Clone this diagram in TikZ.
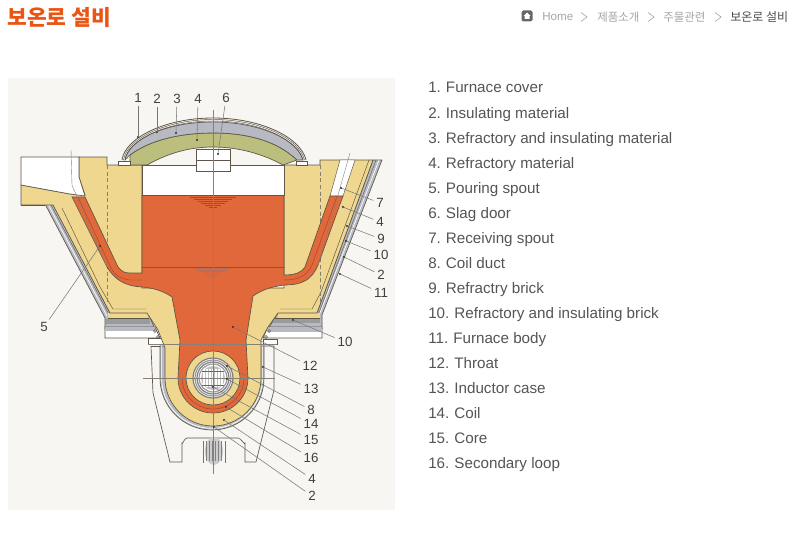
\documentclass[tikz,border=0pt]{standalone}
\usepackage{fontspec}
\setmainfont{Liberation Sans}
\newfontfamily\krfont{Noto Sans CJK KR}
\definecolor{panelbg}{HTML}{F8F6F3}
\definecolor{wally}{HTML}{EFD78F}
\definecolor{bath}{HTML}{E0683A}
\definecolor{bathd}{HTML}{A8482A}
\definecolor{domeg}{HTML}{BBBE7C}
\definecolor{domes}{HTML}{B7BAC2}
\definecolor{ln}{HTML}{5E5648}
\definecolor{lead}{HTML}{777777}
\definecolor{titleo}{HTML}{EA5514}
\definecolor{listc}{HTML}{555555}
\tikzset{
 outl/.style={draw=ln,line width=0.5pt},
 thin line/.style={draw=ln,line width=0.35pt},
 axis line/.style={draw=ln!75,line width=0.3pt},
 leader/.style={draw=lead,line width=0.4pt},
 num/.style={font=\fontsize{10}{10}\selectfont,text=black!75,inner sep=2pt},
 item/.style={font=\fontsize{11.4}{13}\selectfont,text=listc,anchor=base west,inner sep=0pt},
 crumb/.style={font=\krfont\fontsize{8.6}{10}\selectfont,text=black!35,inner sep=0pt},
 chev/.style={draw=black!35,line width=0.45pt},
}
\begin{document}
\begin{tikzpicture}[x=0.75pt,y=-0.75pt]
\useasboundingbox (0,0) rectangle (796,542);
\fill[white] (0,0) rectangle (796,542);
\fill[panelbg] (8,78) rectangle (395,510);

% outer steel shell bands
\filldraw[fill=domes,outl] (45,204)--(105,318)--(105,329)--(155,329)--(148,313)--(110,313)--(53,204)--cycle;
\filldraw[fill=domes,outl] (382,160)--(322,315)--(322,329)--(268,329)--(278,313)--(317,313)--(373,160)--cycle;
\draw[white,line width=0.5pt] (48,204)--(107,316);
\draw[ln,line width=0.3pt] (50.5,204)--(109,314.5);
\draw[white,line width=0.5pt] (379,160)--(320,313);
\draw[ln,line width=0.3pt] (376,160)--(318.5,314);
% bottom bands
\fill[wally] (108,313) rectangle (148,318);
\fill[wally] (278,313) rectangle (320,318);
\draw[thin line] (108,318)--(149,318);
\draw[thin line] (275,318)--(320,318);
\fill[domes!60!black!70] (106,319) rectangle (150,324);
\fill[domes!60!black!70] (273,319) rectangle (320,323);
% base plates
\filldraw[fill=white,outl] (105,327)--(155,327)--(160,338)--(105,338)--cycle;
\filldraw[fill=white,outl] (268,327)--(322,327)--(322,338)--(263,338)--cycle;
\fill[domes] (105.3,327.3) rectangle (155,331);
\fill[domes] (268,327.3) rectangle (321.7,331.5);
\filldraw[fill=white,outl] (148,338)--(163,338)--(163,344)--(148,344)--cycle;
\filldraw[fill=white,outl] (263,339)--(277,339)--(277,344)--(263,344)--cycle;

% inductor case
\draw[outl] (151,346)--(153,393)--(170,462)--(182,462)--(182,443) to[out=-90,in=180] (187,438)--(238,438) to[out=0,in=-90] (245,443)--(245,462)--(256,462)--(274,390)--(274,346)--(263,346);
\draw[outl] (151,346)--(160,346);

% ring steel band
\filldraw[fill=domes,outl] (160,346)--(160,378) arc[start angle=180,end angle=0,radius=52]--(264,346)--cycle;
\draw[white,line width=0.5pt] (161.6,346)--(161.6,378) arc[start angle=180,end angle=0,radius=50.4]--(262.4,346);

% yellow body
\filldraw[fill=wally,outl] (79,157)--(107,157)--(107,165)--(142,165)--(142,288)--(284,288)--(284,165)--(320,165)--(320,160)--(373,160)--(317,313)--(278,313)--(268,327)--(261,340)--(261,378) arc[start angle=0,end angle=180,radius=48]--(165,348)--(158,330)--(147,313)--(110,313)--(53,205)--(21,205)--(21,185)--(70,194)--(85,195)--(79,177)--cycle;
\draw[thin line] (369,160)--(321,292)--(312,309)--(280,309);
\draw[thin line] (62,208)--(100,287)--(113,309)--(146,309);
\draw[axis line,densely dashed] (107,165)--(107,302);
\draw[axis line,densely dashed] (320,165)--(320,302);

% white spouts and chamber
\filldraw[fill=white,outl] (21,157)--(79,157)--(79,177)--(85,196)--(70,194)--(21,185)--cycle;
\filldraw[fill=white,thin line] (340,160)--(355,160)--(343,196)--(330,196)--cycle;
\fill[white] (142,165) rectangle (284,196);
\draw[outl] (142,165)--(142,196);
\draw[outl] (284,165)--(284,196);
\draw[thin line] (21,205)--(45,205);

% molten bath / refractory
\filldraw[fill=bath,outl] (72,197)--(85,197)--(118,267) .. controls (122,272) and (125,273) .. (130,273)--(142,273)--(142,195.5)--(284,195.5)--(284,275) .. controls (296,275) and (302,272) .. (305,267)--(330,196)--(343,196)--(318,265) .. controls (312,280) and (302,285) .. (284,285) .. controls (270,287) and (262,290) .. (253,296)--(246,340)--(248,378) arc[start angle=0,end angle=180,radius=35]--(180,340)--(172,297) .. controls (165,292) and (155,288) .. (142,287) .. controls (125,286) and (115,280) .. (107,267)--cycle;
% seams in bath
\draw[bathd,line width=0.45pt] (142,267)--(284,267);
\draw[bathd,line width=0.35pt] (78,197)--(111,268) .. controls (116,277) and (122,279) .. (130,280)--(142,280);
\draw[bathd,line width=0.35pt] (337,196)--(312,265) .. controls (307,276) and (298,280) .. (284,280);
\foreach \k in {0,...,5}{
 \draw[bathd,line width=0.5pt] (190+3.8*\k,197+2*\k)--(236-3.8*\k,197+2*\k);
 \draw[bathd!80,line width=0.45pt] (195+3*\k,268.5+1.6*\k)--(230-3*\k,268.5+1.6*\k);
}

% throat ring and coil
\fill[wally] (213,378) circle[radius=27];
\draw[outl] (213,378) circle[radius=27];
\draw[bathd,line width=0.4pt] (182,378) arc[start angle=180,end angle=0,radius=31];
\fill[white] (213,378) circle[radius=20];
\foreach \r/\c in {20/black!50,18/black!40,16/black!50,14/black!40}{
 \draw[\c,line width=0.9pt] (213,378) circle[radius=\r];}
\fill[black!25] (213,378) circle[radius=12];
\foreach \dx in {-9,-6,-3,0,3,6,9}{
 \draw[white,line width=0.9pt] (213+\dx,378-9) -- (213+\dx,378+9);}
\draw[black!60,line width=0.5pt] (202,371)--(224,371) (202,385)--(224,385);

% lower yoke coil
\draw[black!55,line width=0.5pt] (203,441)--(203,463) (225,441)--(225,463);
\fill[black!20] (214,451) ellipse[x radius=9,y radius=14];
\foreach \dx in {-8,-5,-2,1,4,7}{
 \draw[black!50,line width=0.45pt] (214+\dx,441)--(214+\dx,461);}

% dome
\filldraw[fill=domeg,outl] (130,155) .. controls (150,140) and (180,133) .. (213,133) .. controls (246,133) and (276,140) .. (297,160)--(283,165)  .. controls (265,155) and (240,147) .. (213,147) .. controls (186,147) and (165,155) .. (147,165)--(130,165)--cycle;
\filldraw[fill=domes,outl] (125,160) .. controls (128,140) and (165,122) .. (213,122) .. controls (260,122) and (298,140) .. (303,160)--(297,160) .. controls (276,140) and (246,133) .. (213,133) .. controls (180,133) and (150,140) .. (130,155)--cycle;
\foreach \o/\t in {0/0.6,1.5/0.35,3/0.35}{
 \draw[ln,line width=\t pt] (122+\o,160) .. controls (125+\o,138+\o) and (165,118+\o) .. (213,118+\o) .. controls (262,118+\o) and (301-\o,138+\o) .. (306-\o,160);}
\filldraw[fill=white,outl] (118,161) rectangle (130,165);
\filldraw[fill=white,outl] (296,161) rectangle (307,165);

% slag door
\filldraw[fill=white,outl] (196,149) rectangle (230,171);
\draw[thin line] (196,160)--(230,160);
\draw[thin line] (142,165)--(196,165);
\draw[thin line] (230,165)--(284,165);

% plugs
\draw[ln,line width=0.4pt] (155,331) circle[radius=1.6] (158,337) circle[radius=1.6];
\draw[ln,line width=0.4pt] (269,331) circle[radius=1.6] (266,337) circle[radius=1.6];

% centre lines
\draw[axis line] (213,110)--(213,474);
\draw[axis line] (143,378)--(275,378);
\draw[axis line] (148,344)--(277,344);
\draw[axis line] (71,150)--(72,185)--(107,267);
\draw[axis line] (350,153)--(318,265);

% leader anchors
\foreach \n/\p in {a1/{138,137},a2/{157,132},a3/{176,133},a4/{197,140},a6/{218,154},a7/{341,188},b4/{343,207},a9/{347,226},a10/{346,241},b2/{344,257},a11/{340,274},b10/{293,320},a12/{233,327},a13/{263,367},a8/{227,366},a14/{227,379},a15/{213,387},a16/{226,407},c4/{224,420},c2/{214,427},a5/{100,246}}{
 \coordinate (\n) at (\p);
 \fill[black!85] (\n) circle[radius=1.2];
}
% labels
\foreach \n/\p/\t in {n1/{138,98}/1,n2/{157,99}/2,n3/{177,99}/3,n4/{198,99}/4,n6/{226,98}/6,n7/{380,203}/7,m4/{380,222}/4,n9/{381,239}/9,n10/{381,255}/10,m2/{381,275}/2,n11/{381,293}/11,m10/{345,342}/10,n12/{310,366}/12,n13/{311,389}/13,n8/{311,410}/8,n14/{311,424}/14,n15/{311,440}/15,n16/{311,458}/16,p4/{312,479}/4,p2/{312,496}/2,n5/{44,327}/5}{
 \node[num] (\n) at (\p) {\t};
}
\foreach \a/\b in {a1/n1,a2/n2,a3/n3,a4/n4,a6/n6,a7/n7,b4/m4,a9/n9,a10/n10,b2/m2,a11/n11,b10/m10,a12/n12,a13/n13,a8/n8,a14/n14,a15/n15,a16/n16,c4/p4,c2/p2,a5/n5}{
 \draw[leader] (\a)--(\b);
}

% list
\foreach \i/\t [evaluate=\i as \yy using 68+25*\i] in {1/Furnace cover,2/Insulating material,3/Refractory and insulating material,4/Refractory material,5/Pouring spout,6/Slag door,7/Receiving spout,8/Coil duct,9/Refractry brick,10/Refractory and insulating brick,11/Furnace body,12/Throat,13/Inductor case,14/Coil,15/Core,16/Secondary loop}{
 \node[item] (l\i) at (428,\yy) {\i.\hspace{0.33em}\t};
}

% header
\node[anchor=west,inner sep=0pt,text=titleo,font=\krfont\bfseries\fontsize{16.1}{18}\selectfont] (title) at (7,17) {보온로 설비};
\fill[black!60,rounded corners=1.2pt] (521.5,10.5) rectangle (532.5,21.5);
\fill[white] (527,12.5)--(530.5,16)--(529.5,16)--(529.5,19)--(524.5,19)--(524.5,16)--(523.5,16)--cycle;
\node[anchor=west,inner sep=0pt,text=black!35,font=\fontsize{8.7}{10}\selectfont] (home) at (542,17) {Home};
\node[crumb,anchor=west] (c1) at (597,17) {제품소개};
\node[crumb,anchor=west] (c2x) at (663,17) {주물관련};
\node[crumb,anchor=west,text=black!70,font=\krfont\fontsize{9}{10}\selectfont] (c3) at (730,17) {보온로 설비};
\foreach \x in {581,648,715}{
 \draw[chev] (\x,12.5)--(\x+6,17)--(\x,21.5);}
\end{tikzpicture}
\end{document}
